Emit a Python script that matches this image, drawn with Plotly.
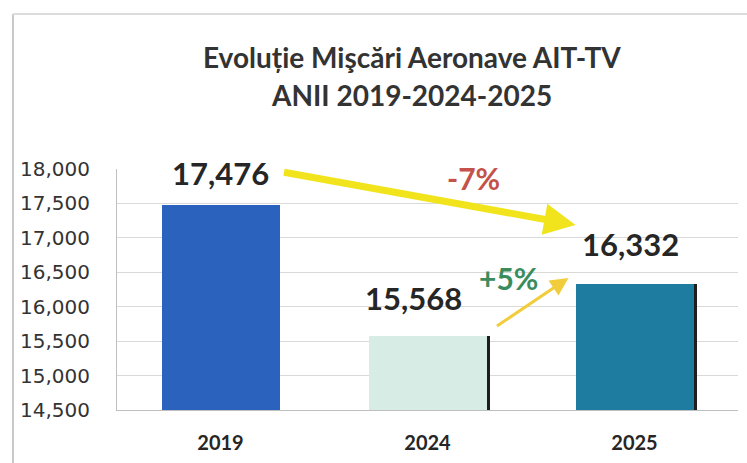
import plotly.graph_objects as go

categories = ["2019", "2024", "2025"]
values = [17476, 15568, 16332]
value_labels = ["17,476", "15,568", "16,332"]
bar_colors = ["#2a62bd", "#d8ece6", "#1e7ca1"]
shadow_colors = ["rgba(0,0,0,0)", "#1e1e1e", "#1e1e1e"]
y_ticks = [14500, 15000, 15500, 16000, 16500, 17000, 17500, 18000]
title_lines = ["Evoluție Mişcări Aeronave AIT-TV", "ANII 2019-2024-2025"]
change_labels = ["-7%", "+5%"]

x_idx = list(range(len(categories)))
W = 0.57

fig = go.Figure()
fig.add_trace(go.Bar(x=x_idx, y=values, width=W, offset=-W/2 + 0.018,
                     marker=dict(color=shadow_colors, line=dict(width=0)),
                     hoverinfo="skip", showlegend=False))
fig.add_trace(go.Bar(x=x_idx, y=values, width=W, offset=-W/2,
                     marker=dict(color=bar_colors, line=dict(width=0)),
                     showlegend=False))

# value labels
label_dx = [0, -14, -4]
label_dy = [32, 38, 40]
for i, v in enumerate(values):
    fig.add_annotation(x=x_idx[i], y=v, text=f"<b>{value_labels[i]}</b>",
                       showarrow=False, xshift=label_dx[i], yshift=label_dy[i],
                       font=dict(family="Lato", size=31, color="#262626"))

# big yellow arrow (2019 -> 2025)
fig.add_annotation(x=1.715, y=17187, ax=-293, ay=-53, xref="x", yref="y",
                   text="", showarrow=True, arrowhead=2, arrowsize=0.9,
                   arrowwidth=7, arrowcolor="#f2e41c")
# small arrow (2024 -> 2025)
fig.add_annotation(x=1.681, y=16417, ax=-73, ay=49, xref="x", yref="y",
                   text="", showarrow=True, arrowhead=2, arrowsize=1.2,
                   arrowwidth=3, arrowcolor="#f1cd3c")

fig.add_annotation(x=1.22, y=17869, text=f"<b>{change_labels[0]}</b>",
                   showarrow=False,
                   font=dict(family="Lato", size=30, color="#c5524a"))
fig.add_annotation(x=1.39, y=16417, text=f"<b>{change_labels[1]}</b>",
                   showarrow=False,
                   font=dict(family="Lato", size=30, color="#3b8c5c"))

# title
fig.add_annotation(xref="paper", yref="paper", x=0.475, y=1.0, yshift=112,
                   xanchor="center", yanchor="middle",
                   text=f"<b>{title_lines[0]}</b>", showarrow=False,
                   font=dict(family="Lato", size=28, color="#333333"))
fig.add_annotation(xref="paper", yref="paper", x=0.475, y=1.0, yshift=74,
                   xanchor="center", yanchor="middle",
                   text=f"<b>{title_lines[1]}</b>", showarrow=False,
                   font=dict(family="Lato", size=28, color="#333333"))

# frame lines
fig.add_shape(type="line", xref="paper", yref="paper", x0=-0.1675, x1=-0.1675,
              y0=-0.3, y1=1.643, line=dict(color="#c8c8c8", width=2))
fig.add_shape(type="line", xref="paper", yref="paper", x0=-0.1675, x1=1.02,
              y0=1.643, y1=1.643, line=dict(color="#dcdcdc", width=2))

fig.update_layout(
    width=747, height=463,
    margin=dict(l=117, r=9, t=169, b=53, autoexpand=False),
    paper_bgcolor="white", plot_bgcolor="white",
    barmode="overlay", bargap=0,
    xaxis=dict(tickmode="array", tickvals=x_idx, ticktext=[f"<b>{c}</b>" for c in categories],
               range=[-0.5, 2.5], showgrid=False, ticks="", zeroline=False,
               showline=True, linecolor="#bfbfbf", linewidth=1, automargin=False,
               tickfont=dict(family="Lato", size=20, color="#262626"),
               ticklabelstandoff=15),
    yaxis=dict(range=[14500, 18000], tickvals=y_ticks, tickformat=",d",
               showgrid=True, gridcolor="#d9d9d9", gridwidth=1, zeroline=False,
               showline=True, linecolor="#bfbfbf", linewidth=1, ticks="",
               automargin=False,
               tickfont=dict(family="DejaVu Sans", size=20, color="#333333"),
               ticklabelstandoff=22),
    font=dict(family="Lato"),
)

fig.write_html("out.html", config={"displayModeBar": False},
               post_script="document.body.style.margin='0';document.body.style.padding='0';")
